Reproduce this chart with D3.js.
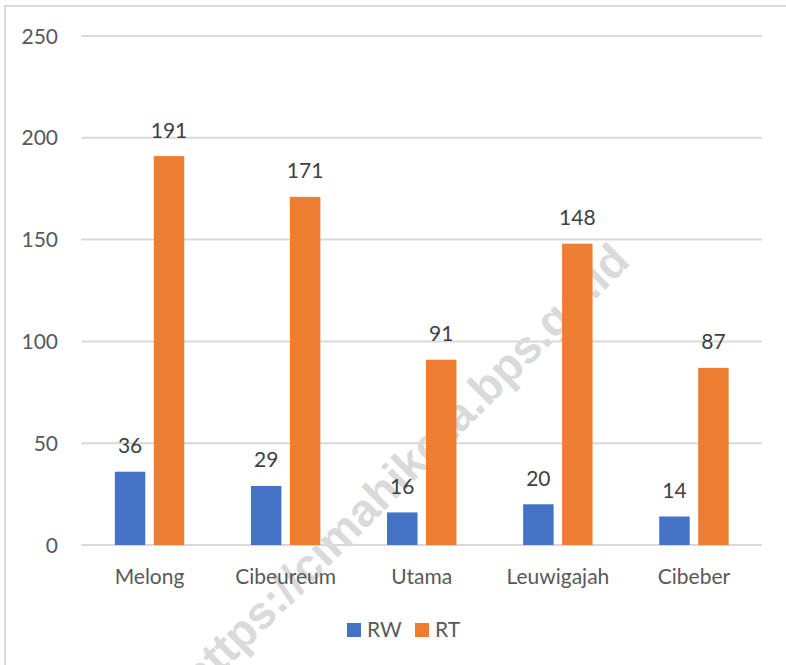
<!DOCTYPE html>
<html>
<head>
<meta charset="utf-8">
<script src="https://cdn.jsdelivr.net/npm/d3@7"></script>
<style>
  html, body { margin: 0; padding: 0; background: #fff; }
  svg { display: block; }
</style>
</head>
<body>
<svg id="chart" width="786" height="665"></svg>
<script>
const categories = ["Melong", "Cibeureum", "Utama", "Leuwigajah", "Cibeber"];
const seriesNames = ["RW", "RT"];
const rwValues = [36, 29, 16, 20, 14];
const rtValues = [191, 171, 91, 148, 87];
const yTicks = [0, 50, 100, 150, 200, 250];
const seriesColors = ["#4472C4", "#ED7D31"];
const watermarkText = "https://cimahikota.bps.go.id";

const svg = d3.select("#chart");
const font = "Lato, 'Open Sans', sans-serif";

// chart border
svg.append("rect")
  .attr("x", 5).attr("y", 6)
  .attr("width", 800).attr("height", 700)
  .attr("fill", "#fff")
  .attr("stroke", "#d9d9d9").attr("stroke-width", 2);

const x0 = d3.scaleBand().domain(categories).range([81.5, 762])
  .paddingInner(0.49).paddingOuter(0.245);
const x1 = d3.scaleBand().domain(seriesNames).range([0, x0.bandwidth()])
  .paddingInner(0.218).paddingOuter(0);
const y = d3.scaleLinear().domain([0, 250]).range([545, 36]);
const color = d3.scaleOrdinal().domain(seriesNames).range(seriesColors);

// gridlines
svg.append("g").selectAll("line").data(yTicks).join("line")
  .attr("x1", 81.5).attr("x2", 762)
  .attr("y1", d => y(d)).attr("y2", d => y(d))
  .attr("stroke", "#d9d9d9").attr("stroke-width", 2);

// watermark
svg.append("text")
  .attr("transform", "translate(416,479) rotate(-45)")
  .attr("text-anchor", "middle")
  .attr("font-family", "'Liberation Sans', Arial, sans-serif")
  .attr("font-weight", "bold")
  .attr("font-size", 46)
  .attr("fill", "#dadada")
  .text(watermarkText);

// y tick labels
svg.append("g").selectAll("text").data(yTicks).join("text")
  .attr("x", 58).attr("y", d => y(d) + 7.5)
  .attr("text-anchor", "end")
  .attr("font-family", font).attr("font-size", 21)
  .attr("fill", "#595959")
  .text(d => d);

const data = categories.map((c, i) => ({
  cat: c,
  vals: [{ s: "RW", v: rwValues[i] }, { s: "RT", v: rtValues[i] }]
}));

const groups = svg.append("g").selectAll("g").data(data).join("g")
  .attr("transform", d => `translate(${x0(d.cat)},0)`);

groups.selectAll("rect").data(d => d.vals).join("rect")
  .attr("x", d => x1(d.s))
  .attr("width", x1.bandwidth())
  .attr("y", d => y(d.v))
  .attr("height", d => y(0) - y(d.v))
  .attr("fill", d => color(d.s));

groups.selectAll("text.val").data(d => d.vals).join("text")
  .attr("class", "val")
  .attr("x", d => x1(d.s) + x1.bandwidth() / 2)
  .attr("y", d => y(d.v) - 18.5)
  .attr("text-anchor", "middle")
  .attr("font-family", font).attr("font-size", 21)
  .attr("fill", "#404040")
  .text(d => d.v);

// category labels
svg.append("g").selectAll("text").data(categories).join("text")
  .attr("x", d => x0(d) + x0.bandwidth() / 2)
  .attr("y", 583.5)
  .attr("text-anchor", "middle")
  .attr("font-family", font).attr("font-size", 21)
  .attr("fill", "#595959")
  .text(d => d);

// legend
const legendX = [347, 415];
const legend = svg.append("g").selectAll("g").data(seriesNames).join("g")
  .attr("transform", (d, i) => `translate(${legendX[i]},623)`);
legend.append("rect").attr("width", 14).attr("height", 14)
  .attr("fill", d => color(d));
legend.append("text").attr("x", 20).attr("y", 13.5)
  .attr("font-family", font).attr("font-size", 21)
  .attr("fill", "#595959")
  .text(d => d);
</script>
</body>
</html>
